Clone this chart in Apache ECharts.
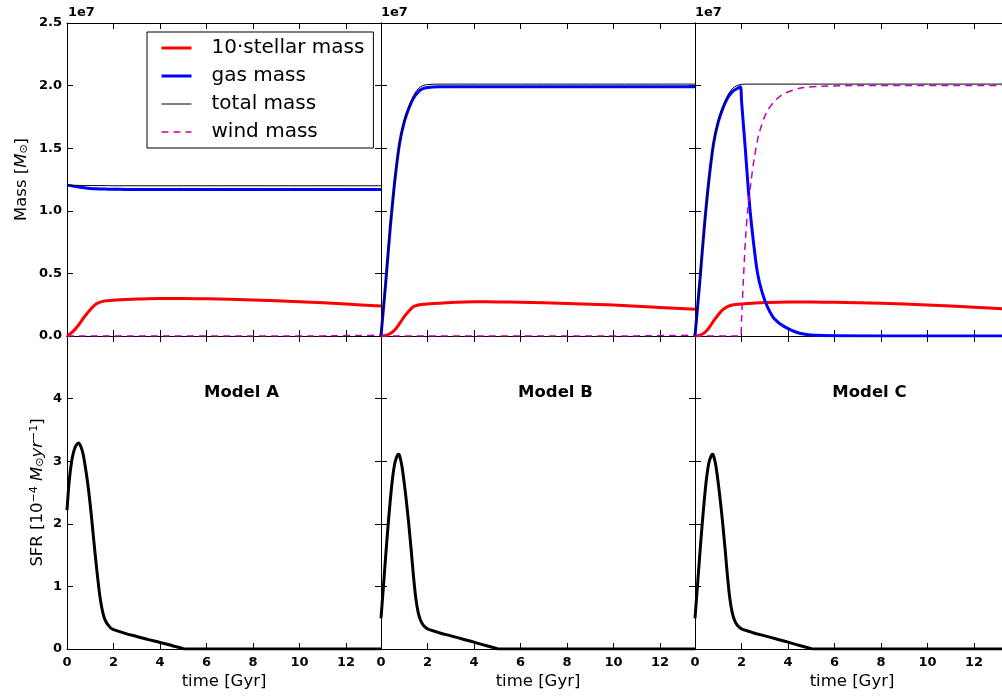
<!DOCTYPE html>
<html>
<head>
<meta charset="utf-8">
<title>Mass and SFR</title>
<script src="https://cdn.jsdelivr.net/npm/echarts/dist/echarts.min.js"></script>
<style>
  html, body { margin: 0; padding: 0; background: #fff; }
  #chart { width: 1002px; height: 696px; }
</style>
</head>
<body>
<div id="chart"></div>
<script>
// masses are in units of 1e7 Msun, stellar mass already multiplied by 10
const timeA = [0, 0.25, 0.5, 0.75, 1, 1.25, 1.5, 1.75, 2, 2.5, 3, 4, 5, 6, 8, 10, 12, 13.5];
const stellarA = [0, 0.035, 0.088, 0.154, 0.21, 0.255, 0.275, 0.282, 0.286, 0.291, 0.295, 0.3, 0.3, 0.297, 0.288, 0.274, 0.255, 0.24];
const gasA = [1.205, 1.197, 1.19, 1.184, 1.179, 1.176, 1.174, 1.173, 1.172, 1.171, 1.17, 1.17, 1.17, 1.17, 1.17, 1.17, 1.17, 1.17];
const totalA = [1.205, 1.204, 1.203, 1.202, 1.202, 1.201, 1.201, 1.201, 1.2, 1.2, 1.2, 1.2, 1.2, 1.2, 1.2, 1.2, 1.2, 1.2];
const timeWindA = [0, 10.5, 11.5, 12.5, 13.5];
const windA = [0, 0, 0.002, 0.004, 0.006];

const timeB = [0, 0.2, 0.4, 0.6, 0.8, 1.0, 1.2, 1.4, 1.6, 1.8, 2.0, 2.5, 3, 4, 5, 6, 8, 10, 12, 13.5];
const stellarB = [0, 0.005, 0.02, 0.05, 0.1, 0.155, 0.2, 0.235, 0.248, 0.253, 0.256, 0.262, 0.268, 0.273, 0.272, 0.269, 0.26, 0.247, 0.228, 0.213];
const gasB = [0, 0.42, 0.87, 1.25, 1.54, 1.71, 1.82, 1.9, 1.95, 1.975, 1.985, 1.99, 1.99, 1.99, 1.99, 1.99, 1.99, 1.99, 1.99, 1.99];
const totalB = [0, 0.42, 0.87, 1.25, 1.545, 1.72, 1.835, 1.92, 1.975, 2.0, 2.008, 2.012, 2.012, 2.012, 2.012, 2.012, 2.012, 2.012, 2.012, 2.012];
const timeWindB = [0, 10.5, 11.5, 12.5, 13.5];
const windB = [0, 0, 0.002, 0.004, 0.006];

const timeStellarC = [0, 0.2, 0.4, 0.6, 0.8, 1.0, 1.2, 1.4, 1.6, 1.8, 2.0, 2.5, 3, 4, 5, 6, 8, 10, 12, 13.5];
const stellarC = [0, 0.005, 0.025, 0.065, 0.12, 0.17, 0.21, 0.235, 0.248, 0.253, 0.256, 0.262, 0.267, 0.272, 0.272, 0.269, 0.261, 0.248, 0.23, 0.215];
const timeGasC = [0, 0.2, 0.4, 0.6, 0.8, 1.0, 1.2, 1.4, 1.6, 1.8, 1.95, 2.0, 2.05, 2.16, 2.26, 2.37, 2.52, 2.69, 2.9, 3.12, 3.4, 3.84, 4.55, 5.5, 8, 13.5];
const gasC = [0, 0.42, 0.87, 1.25, 1.54, 1.71, 1.82, 1.9, 1.95, 1.975, 1.99, 1.88, 1.76, 1.5, 1.25, 1.0, 0.74, 0.5, 0.34, 0.23, 0.14, 0.075, 0.02, 0.003, 0, 0];
const timeTotalC = [0, 0.2, 0.4, 0.6, 0.8, 1.0, 1.2, 1.4, 1.6, 1.8, 2.0, 2.3, 13.5];
const totalC = [0, 0.42, 0.87, 1.25, 1.545, 1.72, 1.835, 1.92, 1.975, 2.0, 2.01, 2.012, 2.012];
const timeWindC = [0, 1.97, 2.0, 2.08, 2.18, 2.28, 2.4, 2.54, 2.76, 3.12, 3.69, 4.55, 5.5, 7, 13.5];
const windC = [0, 0, 0.13, 0.45, 0.8, 1.03, 1.22, 1.41, 1.62, 1.8, 1.92, 1.98, 1.995, 2.0, 2.0];

// star formation rate in 1e-4 Msun/yr
const timeSfrA = [0, 0.1, 0.2, 0.3, 0.4, 0.5, 0.6, 0.7, 0.8, 0.9, 1.0, 1.1, 1.2, 1.3, 1.4, 1.5, 1.6, 1.7, 1.8, 1.9, 2.0, 2.5, 3, 3.5, 4, 4.5, 5, 5.1, 13.5];
const sfrA = [2.22, 2.7, 3.0, 3.17, 3.26, 3.29, 3.23, 3.1, 2.88, 2.62, 2.3, 1.93, 1.55, 1.2, 0.88, 0.65, 0.5, 0.42, 0.37, 0.33, 0.31, 0.25, 0.2, 0.15, 0.105, 0.055, 0.005, 0, 0];
const timeSfrB = [0, 0.1, 0.2, 0.3, 0.4, 0.5, 0.6, 0.7, 0.75, 0.8, 0.9, 1.0, 1.1, 1.2, 1.3, 1.4, 1.5, 1.6, 1.7, 1.8, 1.9, 2.0, 2.5, 3, 3.5, 4, 4.5, 5, 5.1, 13.5];
const sfrB = [0.49, 0.98, 1.48, 1.95, 2.38, 2.74, 2.98, 3.09, 3.11, 3.09, 2.92, 2.65, 2.33, 1.97, 1.57, 1.15, 0.8, 0.58, 0.46, 0.39, 0.35, 0.32, 0.26, 0.21, 0.16, 0.11, 0.055, 0.005, 0, 0];
const timeSfrC = [0, 0.1, 0.2, 0.3, 0.4, 0.5, 0.6, 0.7, 0.75, 0.8, 0.9, 1.0, 1.1, 1.2, 1.3, 1.4, 1.5, 1.6, 1.7, 1.8, 1.9, 2.0, 2.5, 3, 3.5, 4, 4.5, 5, 5.1, 13.5];
const sfrC = [0.49, 0.98, 1.48, 1.95, 2.38, 2.74, 2.98, 3.09, 3.11, 3.09, 2.92, 2.65, 2.33, 1.97, 1.57, 1.15, 0.8, 0.58, 0.46, 0.39, 0.35, 0.32, 0.26, 0.21, 0.16, 0.11, 0.055, 0.005, 0, 0];

const modelNames = ['Model A', 'Model B', 'Model C'];
const legendNames = ['10\u00b7stellar mass', 'gas mass', 'total mass', 'wind mass'];

const font = 'DejaVu Sans';
const chart = echarts.init(document.getElementById('chart'));

const styles = {
  stellar: {color: '#ff0000', width: 3},
  gas: {color: '#0000ff', width: 3},
  total: {color: '#000000', width: 1},
  wind: {color: '#bf00bf', width: 1.5, type: [7, 5]},
  sfr: {color: '#000000', width: 3}
};

const panels = [
  [[timeA, stellarA, 'stellar'], [timeA, gasA, 'gas'], [timeA, totalA, 'total'], [timeWindA, windA, 'wind']],
  [[timeB, stellarB, 'stellar'], [timeB, gasB, 'gas'], [timeB, totalB, 'total'], [timeWindB, windB, 'wind']],
  [[timeStellarC, stellarC, 'stellar'], [timeGasC, gasC, 'gas'], [timeTotalC, totalC, 'total'], [timeWindC, windC, 'wind']],
  [[timeSfrA, sfrA, 'sfr']],
  [[timeSfrB, sfrB, 'sfr']],
  [[timeSfrC, sfrC, 'sfr']]
];
const nameOf = {stellar: legendNames[0], gas: legendNames[1], total: legendNames[2], wind: legendNames[3], sfr: 'SFR'};

const colLeft = [67, 381, 695];
const rowTop = [23, 336];
const boxW = 314;
const boxH = 313;

const tickFont = {fontSize: 13, fontWeight: 'bold', color: '#000', fontFamily: font};
const nameFont = {fontSize: 16.5, color: '#000', fontFamily: font};

function axisBase() {
  return {
    type: 'value',
    axisLine: {show: true, onZero: false, lineStyle: {color: '#000', width: 1}},
    axisTick: {show: true, inside: true, length: 6, lineStyle: {color: '#000', width: 1}},
    splitLine: {show: false}
  };
}

const grids = [], xAxes = [], yAxes = [], series = [];
for (let r = 0; r < 2; r++) {
  for (let c = 0; c < 3; c++) {
    const gi = r * 3 + c;
    grids.push({left: colLeft[c], top: rowTop[r], width: boxW, height: boxH, outerBoundsMode: 'none', containLabel: false});

    const xb = Object.assign(axisBase(), {
      gridIndex: gi, position: 'bottom', min: 0, max: 13.5, interval: 2,
      axisLabel: Object.assign({show: r === 1, margin: 7, formatter: v => v > 12.5 ? '' : String(v)}, tickFont)
    });
    if (r === 1) {
      xb.name = 'time [Gyr]';
      xb.nameLocation = 'middle';
      xb.nameGap = 24;
      xb.nameTextStyle = nameFont;
    }
    const xt = Object.assign(axisBase(), {
      gridIndex: gi, position: 'top', min: 0, max: 13.5, interval: 2, axisLabel: {show: false}
    });
    xAxes.push(xb, xt);

    const yMax = r === 0 ? 2.5 : 5;
    const yStep = r === 0 ? 0.5 : 1;
    const yl = Object.assign(axisBase(), {
      gridIndex: gi, position: 'left', min: 0, max: yMax, interval: yStep,
      axisLabel: Object.assign({
        show: c === 0, margin: 5,
        formatter: v => r === 0 ? v.toFixed(1) : (v >= 5 ? '' : String(v))
      }, tickFont)
    });
    if (r === 0 && c > 0) {
      yl.name = '1e7';
      yl.nameLocation = 'end';
      yl.nameGap = 4;
      yl.nameTextStyle = Object.assign({align: 'left', verticalAlign: 'bottom'}, tickFont);
    }
    const yr = Object.assign(axisBase(), {
      gridIndex: gi, position: 'right', min: 0, max: yMax, interval: yStep, axisLabel: {show: false}
    });
    yAxes.push(yl, yr);

    panels[gi].forEach(([t, v, key]) => {
      series.push({
        type: 'line',
        name: nameOf[key],
        xAxisIndex: gi * 2,
        yAxisIndex: gi * 2,
        data: t.map((x, i) => [x, v[i]]),
        symbol: 'none',
        smooth: 0.3,
        color: styles[key].color,
        lineStyle: styles[key],
        silent: true
      });
    });
  }
}

const richParts = {
  it: {fontSize: 16.5, fontStyle: 'italic', fontFamily: font, color: '#000'},
  sup: {fontSize: 11, fontFamily: font, color: '#000', verticalAlign: 'top', lineHeight: 11},
  sub: {fontSize: 11, fontFamily: font, color: '#000', verticalAlign: 'bottom', lineHeight: 11}
};

yAxes[0].name = 'Mass [{it|M}{sub|\u2299}]';
yAxes[0].nameLocation = 'middle';
yAxes[0].nameRotate = 90;
yAxes[0].nameGap = 37;
yAxes[0].nameTextStyle = Object.assign({rich: richParts}, nameFont);

yAxes[6].name = 'SFR [10{sup|\u22124} {it|M}{sub|\u2299}{it|yr}{sup|\u22121}]';
yAxes[6].nameLocation = 'middle';
yAxes[6].nameRotate = 90;
yAxes[6].nameGap = 21;
yAxes[6].nameTextStyle = Object.assign({rich: richParts}, nameFont);

chart.setOption({
  backgroundColor: '#fff',
  animation: false,
  grid: grids,
  xAxis: xAxes,
  yAxis: yAxes,
  legend: {
    orient: 'vertical', left: 147, top: 32,
    data: legendNames,
    itemWidth: 30, itemHeight: 14, itemGap: 8,
    padding: [6, 9, 6, 13],
    borderColor: '#000', borderWidth: 1, borderRadius: 0,
    backgroundColor: '#fff',
    textStyle: {fontSize: 20, color: '#000', fontFamily: font, lineHeight: 20, padding: [0, 0, 0, 15]},
    itemStyle: {opacity: 0, borderWidth: 0},
    lineStyle: {width: 'inherit'},
    selectedMode: false
  },
  series: series
});

// "1e7" offset label for the first panel and the model titles, placed via the axes
const offsetPos = chart.convertToPixel({xAxisIndex: 0, yAxisIndex: 0}, [0, 2.5]);
const graphics = [{
  type: 'text', x: offsetPos[0] + 1, y: offsetPos[1] - 4,
  style: {text: '1e7', fontSize: 13, fontWeight: 'bold', fontFamily: font, fill: '#000', align: 'left', verticalAlign: 'bottom'}
}];
modelNames.forEach((m, c) => {
  const p = chart.convertToPixel({xAxisIndex: (3 + c) * 2, yAxisIndex: (3 + c) * 2}, [7.5, 4.1]);
  graphics.push({
    type: 'text', x: p[0], y: p[1],
    style: {text: m, fontSize: 16.5, fontWeight: 'bold', fontFamily: font, fill: '#000', align: 'center', verticalAlign: 'middle'}
  });
});
chart.setOption({graphic: graphics});

window.addEventListener('resize', function () {
  chart.resize();
});
</script>
</body>
</html>
